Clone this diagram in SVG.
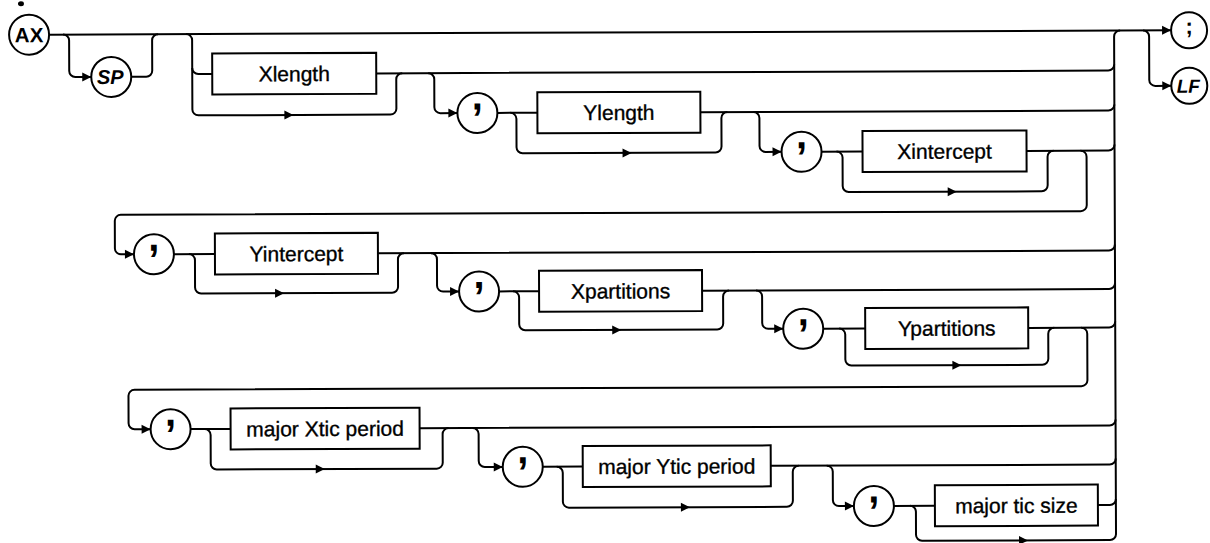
<svg xmlns="http://www.w3.org/2000/svg" xmlns:xlink="http://www.w3.org/1999/xlink" width="1210" height="543" viewBox="0 0 1210 543">
  <style>
    .ln { fill: none; stroke: #000; stroke-width: 2; stroke-linejoin: round; stroke-linecap: butt; }
    .bx { fill: #fff; stroke: #000; stroke-width: 2; }
    .ci { fill: #fff; stroke: #000; stroke-width: 2; }
    .lb { font-family: "Liberation Sans", Arial, sans-serif; font-size: 21px; text-anchor: middle; fill: #000; stroke: #000; stroke-width: 0.35; }
    .tk { font-family: "Liberation Sans", Arial, sans-serif; font-weight: bold; text-anchor: middle; fill: #000; }
    .cm { font-family: "Liberation Sans", Arial, sans-serif; font-weight: bold; font-size: 40px; text-anchor: middle; fill: #000; }
  </style>
  <defs>
    <path id="ah" d="M0 0 L-9 -4.5 L-9 4.5 Z" fill="#000"/>
  </defs>
  <rect width="1210" height="543" fill="#fff"/>
  <g transform="rotate(-0.22 605 271)">
    <!-- ink fragment from the line above -->
    <ellipse cx="22" cy="1.5" rx="3" ry="2.5" fill="#000"/>

    <g id="connectors">
      <!-- main line and exits -->
      <path class="ln" d="M50 32.5 H1172"/>
      <path class="ln" d="M1144 32.5 a6 6 0 0 1 6 6 V82 a6 6 0 0 0 6 6 H1172"/>
      <path class="ln" d="M1115 536 V38.5 a6 6 0 0 1 6 -6"/>
      <!-- SP loop -->
      <path class="ln" d="M64 32.5 a6 6 0 0 1 6 6 V69 a6 6 0 0 0 6 6 H92"/>
      <path class="ln" d="M132 75 H147 a6 6 0 0 0 6 -6 V38.5 a6 6 0 0 1 6 -6"/>
      <!-- Xlength -->
      <path class="ln" d="M187 32.5 a6 6 0 0 1 6 6 V107.8 a6 6 0 0 0 6 6 H391 a6 6 0 0 0 6 -6 V78.5 a6 6 0 0 1 6 -6"/>
      <path class="ln" d="M193 66.5 a6 6 0 0 0 6 6 H213"/>
      <path class="ln" d="M377 72.5 H1109 a6 6 0 0 0 6 -6"/>
      <!-- Ylength -->
      <path class="ln" d="M429 72.5 a6 6 0 0 1 6 6 V106.5 a6 6 0 0 0 6 6 H458"/>
      <path class="ln" d="M498 112.5 H538"/>
      <path class="ln" d="M511 112.5 a6 6 0 0 1 6 6 V147 a6 6 0 0 0 6 6 H716 a6 6 0 0 0 6 -6 V118.5 a6 6 0 0 1 6 -6"/>
      <path class="ln" d="M701 112.5 H1109 a6 6 0 0 0 6 -6"/>
      <!-- Xintercept -->
      <path class="ln" d="M754 112.5 a6 6 0 0 1 6 6 V146.5 a6 6 0 0 0 6 6 H782"/>
      <path class="ln" d="M822 152.5 H863"/>
      <path class="ln" d="M837 152.5 a6 6 0 0 1 6 6 V187 a6 6 0 0 0 6 6 H1042 a6 6 0 0 0 6 -6 V158.5 a6 6 0 0 1 6 -6"/>
      <path class="ln" d="M1027 152.5 H1109 a6 6 0 0 0 6 -6"/>
      <path class="ln" d="M1081 152.5 a6 6 0 0 1 6 6 V207 a6 6 0 0 1 -6 6 H121 a6 6 0 0 0 -6 6 V246.5 a6 6 0 0 0 6 6 H134"/>
      <!-- Yintercept -->
      <path class="ln" d="M174 252.5 H215"/>
      <path class="ln" d="M189 252.5 a6 6 0 0 1 6 6 V286 a6 6 0 0 0 6 6 H392 a6 6 0 0 0 6 -6 V258.5 a6 6 0 0 1 6 -6"/>
      <path class="ln" d="M378 252.5 H1109 a6 6 0 0 0 6 -6"/>
      <!-- Xpartitions -->
      <path class="ln" d="M431 252.5 a6 6 0 0 1 6 6 V285 a6 6 0 0 0 6 6 H459"/>
      <path class="ln" d="M499 291 H539"/>
      <path class="ln" d="M513 291 a6 6 0 0 1 6 6 V324 a6 6 0 0 0 6 6 H717 a6 6 0 0 0 6 -6 V297 a6 6 0 0 1 6 -6"/>
      <path class="ln" d="M702 291 H1109 a6 6 0 0 0 6 -6"/>
      <!-- Ypartitions -->
      <path class="ln" d="M756 291 a6 6 0 0 1 6 6 V323.5 a6 6 0 0 0 6 6 H783"/>
      <path class="ln" d="M823 329.5 H865"/>
      <path class="ln" d="M839 329.5 a6 6 0 0 1 6 6 V360.5 a6 6 0 0 0 6 6 H1042 a6 6 0 0 0 6 -6 V335.5 a6 6 0 0 1 6 -6"/>
      <path class="ln" d="M1028 329.5 H1109 a6 6 0 0 0 6 -6"/>
      <path class="ln" d="M1081 329.5 a6 6 0 0 1 6 6 V382 a6 6 0 0 1 -6 6 H134 a6 6 0 0 0 -6 6 V421.5 a6 6 0 0 0 6 6 H150"/>
      <!-- major Xtic period -->
      <path class="ln" d="M190 427.5 H230"/>
      <path class="ln" d="M204 427.5 a6 6 0 0 1 6 6 V462 a6 6 0 0 0 6 6 H436 a6 6 0 0 0 6 -6 V433.5 a6 6 0 0 1 6 -6"/>
      <path class="ln" d="M419 427.5 H1109 a6 6 0 0 0 6 -6"/>
      <!-- major Ytic period -->
      <path class="ln" d="M472 427.5 a6 6 0 0 1 6 6 V460.5 a6 6 0 0 0 6 6 H502"/>
      <path class="ln" d="M542 466.5 H582"/>
      <path class="ln" d="M556 466.5 a6 6 0 0 1 6 6 V501.5 a6 6 0 0 0 6 6 H786 a6 6 0 0 0 6 -6 V472.5 a6 6 0 0 1 6 -6"/>
      <path class="ln" d="M770 466.5 H1109 a6 6 0 0 0 6 -6"/>
      <!-- major tic size -->
      <path class="ln" d="M826 466.5 a6 6 0 0 1 6 6 V501 a6 6 0 0 0 6 6 H853"/>
      <path class="ln" d="M893 507 H934"/>
      <path class="ln" d="M909 507 a6 6 0 0 1 6 6 V536 a6 6 0 0 0 6 6 H1109 a6 6 0 0 0 6 -6"/>
      <path class="ln" d="M1097 507 H1109 a6 6 0 0 0 6 -6"/>

      <!-- arrowheads -->
      <use xlink:href="#ah" x="92" y="75"/>
      <use xlink:href="#ah" x="1172" y="32.5"/>
      <use xlink:href="#ah" x="1172" y="88"/>
      <use xlink:href="#ah" x="458" y="112.5"/>
      <use xlink:href="#ah" x="782" y="152.5"/>
      <use xlink:href="#ah" x="134" y="252.5"/>
      <use xlink:href="#ah" x="459" y="291"/>
      <use xlink:href="#ah" x="783" y="329.5"/>
      <use xlink:href="#ah" x="150" y="427.5"/>
      <use xlink:href="#ah" x="502" y="466.5"/>
      <use xlink:href="#ah" x="853" y="507"/>
      <use xlink:href="#ah" x="294" y="113.8"/>
      <use xlink:href="#ah" x="632" y="153"/>
      <use xlink:href="#ah" x="957" y="193"/>
      <use xlink:href="#ah" x="284" y="292"/>
      <use xlink:href="#ah" x="621" y="330"/>
      <use xlink:href="#ah" x="961" y="366.5"/>
      <use xlink:href="#ah" x="324" y="468"/>
      <use xlink:href="#ah" x="689" y="507.5"/>
      <use xlink:href="#ah" x="1027" y="542"/>
    </g>

    <g id="n-ax"><circle class="ci" cx="30" cy="32.5" r="20"/><text class="tk" x="30" y="40" font-size="20.5">AX</text></g>
    <g id="n-sp"><circle class="ci" cx="112" cy="75" r="20"/><text class="tk" x="111" y="82" font-size="20" font-style="italic">SP</text></g>
    <g id="n-semicolon"><circle class="ci" cx="1190" cy="32.5" r="18"/><text class="tk" x="1190" y="36" font-size="22">;</text></g>
    <g id="n-lf"><circle class="ci" cx="1190" cy="88" r="18"/><text class="tk" x="1189" y="95" font-size="19" font-style="italic">LF</text></g>

    <g id="n-xlength"><rect class="bx" x="213" y="52" width="164" height="41"/><text class="lb" x="295" y="80">Xlength</text></g>
    <g id="n-comma1"><circle class="ci" cx="478" cy="112.5" r="20"/><text class="cm" x="478" y="109">,</text></g>
    <g id="n-ylength"><rect class="bx" x="538" y="92" width="163" height="41"/><text class="lb" x="619.5" y="120">Ylength</text></g>
    <g id="n-comma2"><circle class="ci" cx="802" cy="152.5" r="20"/><text class="cm" x="802" y="149">,</text></g>
    <g id="n-xintercept"><rect class="bx" x="863" y="132" width="164" height="41"/><text class="lb" x="945" y="160">Xintercept</text></g>

    <g id="n-comma3"><circle class="ci" cx="154" cy="252.5" r="20"/><text class="cm" x="154" y="249">,</text></g>
    <g id="n-yintercept"><rect class="bx" x="215" y="232" width="163" height="41"/><text class="lb" x="296.5" y="260">Yintercept</text></g>
    <g id="n-comma4"><circle class="ci" cx="479" cy="291" r="20"/><text class="cm" x="479" y="287.5">,</text></g>
    <g id="n-xpartitions"><rect class="bx" x="539" y="270.5" width="163" height="41"/><text class="lb" x="620.5" y="298.5">Xpartitions</text></g>
    <g id="n-comma5"><circle class="ci" cx="803" cy="329.5" r="20"/><text class="cm" x="803" y="326">,</text></g>
    <g id="n-ypartitions"><rect class="bx" x="865" y="309" width="163" height="41"/><text class="lb" x="946.5" y="337">Ypartitions</text></g>

    <g id="n-comma6"><circle class="ci" cx="170" cy="427.5" r="20"/><text class="cm" x="170" y="424">,</text></g>
    <g id="n-xtic"><rect class="bx" x="230" y="407" width="189" height="41"/><text class="lb" x="324.5" y="435">major Xtic period</text></g>
    <g id="n-comma7"><circle class="ci" cx="522" cy="466.5" r="20"/><text class="cm" x="522" y="463">,</text></g>
    <g id="n-ytic"><rect class="bx" x="582" y="446" width="188" height="41"/><text class="lb" x="676" y="474">major Ytic period</text></g>
    <g id="n-comma8"><circle class="ci" cx="873" cy="507" r="20"/><text class="cm" x="873" y="503.5">,</text></g>
    <g id="n-ticsize"><rect class="bx" x="934" y="486.5" width="163" height="41"/><text class="lb" x="1015.5" y="514.5">major tic size</text></g>
  </g>
</svg>
